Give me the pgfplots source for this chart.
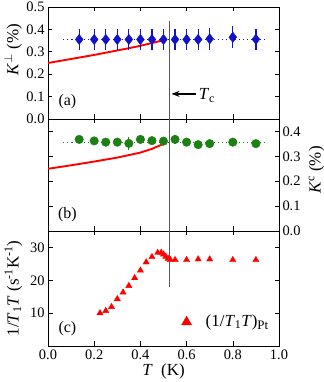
\documentclass[border=0pt]{standalone}
\usepackage{pgfplots}
\pgfplotsset{compat=1.18}
\usepackage{fontspec}
\setmainfont{Liberation Serif}
\usetikzlibrary{arrows.meta}
\definecolor{dblue}{RGB}{18,18,200}
\definecolor{dgreen}{RGB}{28,128,20}
\definecolor{dred}{RGB}{255,0,0}
\newcommand\lbl{\fontsize{17}{19}\selectfont}
\pgfplotsset{
  panel/.style={
    scale only axis, width=231bp,
    xmin=0, xmax=1, xtick={0,0.2,...,1},
    axis line style={line width=0.6pt},
    every tick/.style={black, line width=0.6pt},
    major tick length=4.5bp,
    /pgf/number format/assume math mode=true,
    tick label style={font=\fontsize{14.5}{16}\selectfont},
    label style={font=\lbl},
  },
  tcline/.style={gray!70!black, line width=0.7pt},
  redfit/.style={dred, line width=1.9pt, no marks},
}
\begin{document}
\begin{tikzpicture}[font=\fontsize{16}{18}\selectfont]
% (a) K perp
\begin{axis}[panel, at={(0,227bp)}, height=112bp,
  ymin=0, ymax=0.5, ytick={0,0.1,...,0.5},
  xticklabels={},
  yticklabel style={/pgf/number format/.cd, fixed, fixed zerofill, precision=1},
  ylabel={\textit{K}$^{\perp}$\ (\%)},
  ylabel style={at={(axis description cs:-0.152,0.62)}, anchor=center},
]
\addplot[tcline] coordinates {(0.525,0) (0.525,0.4375)};
\addplot[redfit] coordinates {(0,0.25) (0.1,0.268) (0.2,0.286) (0.3,0.306) (0.35,0.316) (0.4,0.327) (0.45,0.339) (0.5,0.352)};
\addplot[dblue, line width=1pt, dash pattern=on 1.2pt off 3pt] coordinates {(0.065,0.355) (0.94,0.355)};
\addplot[dblue, only marks, mark=diamond*, mark size=5.2pt,
  error bars/.cd, y dir=both, y explicit, error mark=none,
  error bar style={line width=1.3pt, dblue}]
coordinates {
  (0.135,0.355) +- (0,0.048)
  (0.20,0.355) +- (0,0.048)
  (0.25,0.355) +- (0,0.048)
  (0.30,0.355) +- (0,0.048)
  (0.35,0.355) +- (0,0.048)
  (0.40,0.355) +- (0,0.048)
  (0.45,0.355) +- (0,0.048)
  (0.50,0.355) +- (0,0.048)
  (0.55,0.355) +- (0,0.048)
  (0.60,0.355) +- (0,0.048)
  (0.65,0.355) +- (0,0.048)
  (0.70,0.358) +- (0,0.048)
  (0.80,0.365) +- (0,0.048)
  (0.90,0.356) +- (0,0.048)
};
\draw[-{Stealth[length=8bp,width=6bp]}, line width=1.2pt] (axis cs:0.64,0.112) -- (axis cs:0.535,0.112);
\node[anchor=west, inner sep=0pt] at (axis cs:0.652,0.105) {\lbl\textit{T}\textsubscript{c}};
\node at (axis cs:0.084,0.077) {(a)};
\end{axis}
% (b) K c
\begin{axis}[panel, at={(0,115bp)}, height=112bp,
  ymin=0, ymax=0.45, ytick={0,0.1,...,0.4},
  xticklabels={},
  yticklabel pos=right,
  yticklabel style={/pgf/number format/.cd, fixed, fixed zerofill, precision=1},
  ylabel={\textit{K}$^{\mathrm{c}}$\ (\%)},
  ylabel style={at={(axis description cs:1.162,0.545)}, anchor=center},
]
\addplot[tcline] coordinates {(0.525,0) (0.525,0.45)};
\addplot[redfit] coordinates {(0,0.25) (0.1,0.264) (0.2,0.279) (0.3,0.295) (0.4,0.315) (0.45,0.330) (0.5,0.350)};
\addplot[dgreen, line width=1pt, dash pattern=on 1.2pt off 3pt] coordinates {(0.065,0.357) (0.94,0.357)};
\addplot[dgreen, only marks, mark=*, mark size=4.3pt,
  error bars/.cd, y dir=both, y explicit, error mark=none,
  error bar style={line width=1.2pt, dgreen}]
coordinates {
  (0.135,0.368) +- (0,0.01)
  (0.20,0.362) +- (0,0.01)
  (0.25,0.357) +- (0,0.01)
  (0.30,0.357) +- (0,0.01)
  (0.35,0.352) +- (0,0.026)
  (0.40,0.368) +- (0,0.019)
  (0.45,0.363) +- (0,0.012)
  (0.50,0.361) +- (0,0.01)
  (0.55,0.368) +- (0,0.018)
  (0.60,0.357) +- (0,0.01)
  (0.65,0.347) +- (0,0.015)
  (0.70,0.351) +- (0,0.015)
  (0.80,0.357) +- (0,0.01)
  (0.90,0.351) +- (0,0.01)
};
\node at (axis cs:0.084,0.064) {(b)};
\end{axis}
% (c) 1/T1T
\begin{axis}[panel, at={(0,0)}, height=115bp,
  ymin=0, ymax=35, ytick={10,20,30},
  xticklabel style={/pgf/number format/.cd, fixed, fixed zerofill, precision=1},
  xlabel={\textit{T}\ \ (K)},
  xlabel style={at={(axis description cs:0.5,-0.225)}, anchor=center},
  ylabel={1/\textit{T}\textsubscript{1}\textit{T} (s\textsuperscript{-1}K\textsuperscript{-1})},
  ylabel style={at={(axis description cs:-0.15,0.5)}, anchor=center},
]
\addplot[tcline] coordinates {(0.525,17.9) (0.525,35)};
\addplot[dred, only marks, mark=triangle*, mark size=3.6pt] coordinates {
  (0.225,10.0) (0.25,10.7) (0.275,11.9) (0.30,14.3) (0.325,16.3)
  (0.35,18.3) (0.375,20.7) (0.40,23.0) (0.425,25.5) (0.45,27.1)
  (0.475,28.4) (0.49,28.4) (0.50,27.9) (0.51,27.2) (0.52,26.6)
  (0.53,26.2) (0.55,26.2) (0.60,26.2) (0.65,26.4) (0.70,26.4)
  (0.80,26.2) (0.90,26.2)
};
\addplot[dred, only marks, mark=triangle*, mark size=5.8pt] coordinates {(0.6,7.3)};
\node[anchor=west, inner sep=0pt] at (axis cs:0.682,7.3) {\lbl(1/\textit{T}\textsubscript{1}\textit{T})\raisebox{-3pt}{\fontsize{13}{15}\selectfont Pt}};
\node at (axis cs:0.084,5.2) {(c)};
\end{axis}
\pgfresetboundingbox
\path (-48bp,-36bp) rectangle (276bp,346bp);
\end{tikzpicture}
\end{document}
